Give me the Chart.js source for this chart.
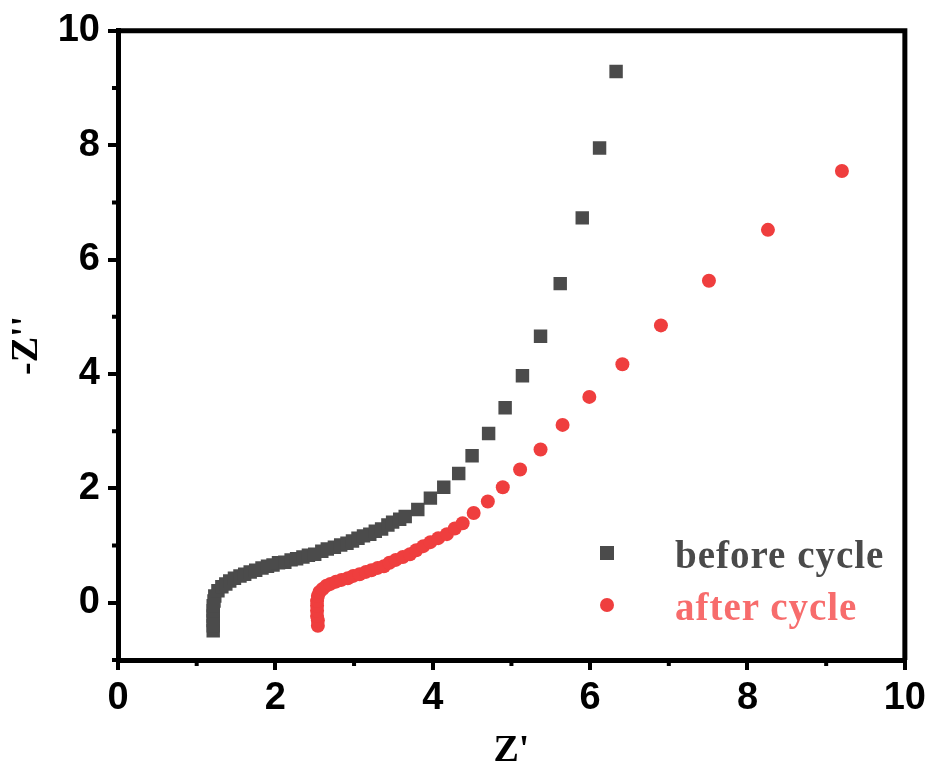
<!DOCTYPE html>
<html>
<head>
<meta charset="utf-8">
<script src="https://cdn.jsdelivr.net/npm/chart.js@4/dist/chart.umd.min.js"></script>
<style>
  html, body { margin: 0; padding: 0; background: #fff; }
  #wrap { position: relative; width: 932px; height: 774px; }
  canvas { display: block; }
  .leg-mark { position: absolute; }
  .leg-text {
    position: absolute;
    font: bold 39px "Liberation Serif", "Times New Roman", serif;
    line-height: 39px;
    letter-spacing: 1px;
    white-space: nowrap;
  }
</style>
</head>
<body>
<div id="wrap">
  <canvas id="c" width="932" height="774"></canvas>
  <div class="leg-mark" style="left:600px;top:546px;width:14px;height:14px;background:#4b4b4b"></div>
  <div class="leg-text" style="left:675px;top:535px;color:#4a4a4a">before cycle</div>
  <div class="leg-mark" style="left:600px;top:598px;width:14px;height:14px;border-radius:50%;background:#ef3e3e"></div>
  <div class="leg-text" style="left:675px;top:587px;color:#f76c6c">after cycle</div>
</div>
<script>
// ── Data ──────────────────────────────────────────────────────────────────────
const beforeZre = [1.21, 1.21, 1.21, 1.21, 1.21, 1.21, 1.22, 1.23, 1.27, 1.32, 1.37, 1.42, 1.48, 1.55,
  1.61, 1.68, 1.75, 1.83, 1.90, 1.97, 2.04, 2.12, 2.20, 2.27, 2.35, 2.42, 2.50, 2.59, 2.66, 2.75,
  2.83, 2.91, 2.98, 3.05, 3.12, 3.20, 3.27, 3.35, 3.43, 3.49, 3.58, 3.65, 3.81, 3.97, 4.14, 4.33,
  4.50, 4.71, 4.92, 5.14, 5.37, 5.62, 5.90, 6.12, 6.33];
const beforeZim = [-0.49, -0.40, -0.31, -0.23, -0.14, -0.05, 0.03, 0.12, 0.21, 0.28, 0.33, 0.38, 0.43, 0.47,
  0.50, 0.54, 0.57, 0.61, 0.64, 0.66, 0.70, 0.71, 0.75, 0.77, 0.80, 0.83, 0.85, 0.90, 0.94, 0.97,
  1.01, 1.04, 1.08, 1.13, 1.17, 1.20, 1.25, 1.29, 1.36, 1.41, 1.46, 1.51, 1.63, 1.83, 2.02, 2.26,
  2.57, 2.96, 3.41, 3.97, 4.66, 5.58, 6.73, 7.95, 9.29];

const afterZre = [2.54, 2.54, 2.53, 2.53, 2.53, 2.53, 2.54, 2.56, 2.60, 2.65, 2.70, 2.77, 2.84, 2.92,
  2.99, 3.07, 3.15, 3.22, 3.30, 3.38, 3.45, 3.53, 3.62, 3.71, 3.79, 3.88, 3.97, 4.07, 4.18, 4.28,
  4.38, 4.52, 4.70, 4.89, 5.11, 5.37, 5.65, 5.99, 6.41, 6.90, 7.51, 8.26, 9.20];
const afterZim = [-0.40, -0.31, -0.23, -0.14, -0.05, 0.03, 0.12, 0.19, 0.24, 0.30, 0.33, 0.37, 0.40, 0.43,
  0.47, 0.50, 0.54, 0.57, 0.61, 0.64, 0.70, 0.75, 0.80, 0.85, 0.92, 0.99, 1.06, 1.13, 1.20, 1.30,
  1.39, 1.57, 1.77, 2.02, 2.33, 2.68, 3.11, 3.60, 4.17, 4.85, 5.63, 6.52, 7.55];

const xTicks = [0, 2, 4, 6, 8, 10];
const yTicks = [0, 2, 4, 6, 8, 10];
const xMinor = [1, 3, 5, 7, 9];
const yMinor = [-1, 1, 3, 5, 7, 9];

const toPts = (xs, ys) => xs.map((x, i) => ({ x, y: ys[i] }));

// ── Frame + minor ticks ───────────────────────────────────────────────────────
const framePlugin = {
  id: "frame",
  afterDraw(chart) {
    const { ctx, chartArea: a, scales } = chart;
    ctx.save();
    ctx.strokeStyle = "#000";
    ctx.lineWidth = 5;
    ctx.beginPath();
    ctx.moveTo(a.left, a.top);
    ctx.lineTo(a.right, a.top);
    ctx.lineTo(a.right, a.bottom);
    ctx.stroke();
    ctx.lineWidth = 4;
    ctx.beginPath();
    xMinor.forEach(v => {
      const px = scales.x.getPixelForValue(v);
      ctx.moveTo(px, a.bottom);
      ctx.lineTo(px, a.bottom + 6);
    });
    yMinor.forEach(v => {
      const py = scales.y.getPixelForValue(v);
      ctx.moveTo(a.left, py);
      ctx.lineTo(a.left - 6, py);
    });
    ctx.stroke();
    ctx.restore();
  }
};

const tickFont = { family: "'Liberation Sans', Arial, sans-serif", size: 38, weight: "bold" };
const titleFont = { family: "'Liberation Serif', 'Times New Roman', serif", size: 38, weight: "bold" };

new Chart(document.getElementById("c"), {
  type: "scatter",
  data: {
    datasets: [
      {
        label: "before cycle",
        data: toPts(beforeZre, beforeZim),
        pointStyle: "rect",
        pointRadius: 9.5,
        pointBorderWidth: 0,
        backgroundColor: "#4b4b4b",
        borderColor: "#4b4b4b",
      },
      {
        label: "after cycle",
        data: toPts(afterZre, afterZim),
        pointStyle: "circle",
        pointRadius: 7,
        pointBorderWidth: 0,
        backgroundColor: "#ef3e3e",
        borderColor: "#ef3e3e",
      }
    ]
  },
  options: {
    responsive: false,
    animation: false,
    layout: { padding: { top: 27, right: 26, left: 0, bottom: 0 } },
    plugins: { legend: { display: false }, tooltip: { enabled: false } },
    scales: {
      x: {
        type: "linear",
        min: 0, max: 10,
        afterBuildTicks: s => { s.ticks = xTicks.map(v => ({ value: v })); },
        afterFit: s => { s.height = 114; },
        border: { color: "#000", width: 5 },
        grid: { drawOnChartArea: false, color: "#000", lineWidth: 4, tickLength: 10 },
        ticks: { color: "#000", font: tickFont, padding: 6, maxRotation: 0 },
        title: { display: true, text: "Z'", color: "#000", font: titleFont, padding: { top: 0, bottom: 0 } }
      },
      y: {
        type: "linear",
        min: -1, max: 10,
        afterBuildTicks: s => { s.ticks = yTicks.map(v => ({ value: v })); },
        afterFit: s => { s.width = 118; },
        border: { color: "#000", width: 5 },
        grid: { drawOnChartArea: false, color: "#000", lineWidth: 4, tickLength: 10 },
        ticks: { color: "#000", font: tickFont, padding: 8 },
        title: { display: true, text: "-Z''", color: "#000", font: titleFont, padding: { top: 4, bottom: 0 } }
      }
    }
  },
  plugins: [framePlugin]
});
</script>
</body>
</html>
